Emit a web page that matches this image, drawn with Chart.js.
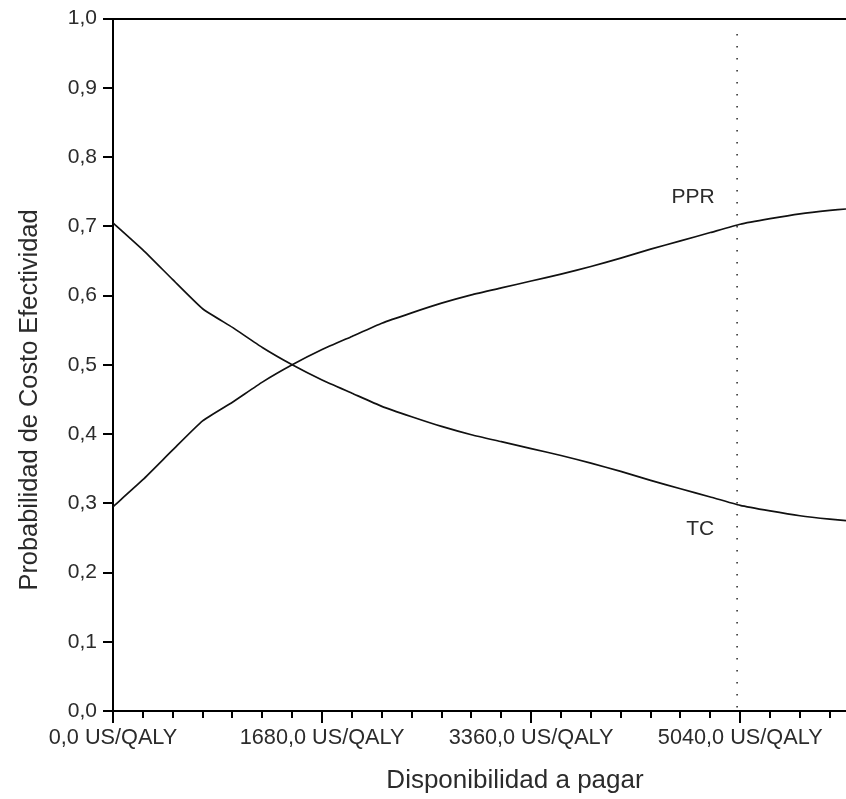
<!DOCTYPE html>
<html>
<head>
<meta charset="utf-8">
<script src="https://cdn.jsdelivr.net/npm/chart.js@4.4.1/dist/chart.umd.min.js"></script>
<style>
  html, body { margin: 0; padding: 0; background: #fff; overflow: hidden; }
  #wrap { width: 846px; height: 799px; }
</style>
</head>
<body>
<div id="wrap"><canvas id="ceac" width="846" height="799"></canvas></div>
<script>
// Willingness to pay (US/QALY) at which each strategy was evaluated
const wtp = [0, 240, 480, 720, 960, 1200, 1440, 1680, 1920, 2160, 2400, 2640, 2880,
             3120, 3360, 3600, 3840, 4080, 4320, 4560, 4800, 5040, 5280, 5520, 5760, 5890];

// Probability of being cost-effective, strategy TC
const tcProb = [0.705, 0.666, 0.623, 0.581, 0.554, 0.525, 0.500, 0.478, 0.459, 0.440, 0.425, 0.411, 0.399,
                0.389, 0.379, 0.369, 0.358, 0.346, 0.333, 0.321, 0.309, 0.297, 0.289, 0.282, 0.277, 0.275];

// Probability of being cost-effective, strategy PPR
const pprProb = [0.295, 0.334, 0.377, 0.419, 0.446, 0.475, 0.500, 0.522, 0.541, 0.560, 0.575, 0.589, 0.601,
                 0.611, 0.621, 0.631, 0.642, 0.654, 0.667, 0.679, 0.691, 0.703, 0.711, 0.718, 0.723, 0.725];

// Reference threshold (dotted vertical line)
const threshold = 5015;

// Axis ticks
const xMajorTicks = [0, 1680, 3360, 5040];
const xMinorStep = 240;
const yTicks = [0, 0.1, 0.2, 0.3, 0.4, 0.5, 0.6, 0.7, 0.8, 0.9, 1.0];

// Curve labels, anchored in data coordinates
const curveLabels = [
  { text: 'PPR', x: 4662, y: 0.742 },
  { text: 'TC',  x: 4718, y: 0.263 }
];

const xTitle = 'Disponibilidad a pagar';
const yTitle = 'Probabilidad de Costo Efectividad';

const INK = '#2b2b2b';
const FONT = '"Liberation Sans", Arial, sans-serif';

const toPoints = (xs, ys) => xs.map((v, i) => ({ x: v, y: ys[i] }));
const fmt = v => v.toFixed(1).replace('.', ',');

const decor = {
  id: 'decor',
  afterDraw(chart) {
    const { ctx, chartArea, scales: { x, y } } = chart;
    ctx.save();

    // frame line along the top of the plot
    ctx.strokeStyle = '#000';
    ctx.lineWidth = 2;
    ctx.beginPath();
    const topY = Math.round(y.getPixelForValue(1));
    ctx.moveTo(chartArea.left - 10, topY);
    ctx.lineTo(chart.width, topY);

    // minor ticks on the x axis
    const baseY = Math.round(chartArea.bottom);
    for (let v = xMinorStep; v < x.max; v += xMinorStep) {
      if (xMajorTicks.includes(v)) continue;
      const px = Math.round(x.getPixelForValue(v));
      ctx.moveTo(px, baseY);
      ctx.lineTo(px, baseY + 7);
    }
    ctx.stroke();

    // curve labels
    ctx.fillStyle = INK;
    ctx.font = '21px ' + FONT;
    ctx.textAlign = 'center';
    ctx.textBaseline = 'middle';
    curveLabels.forEach(l => {
      ctx.fillText(l.text, x.getPixelForValue(l.x), y.getPixelForValue(l.y));
    });

    // axis titles
    ctx.font = '26px ' + FONT;
    ctx.textBaseline = 'alphabetic';
    ctx.fillText(xTitle, 515, 788);

    ctx.font = '25.4px ' + FONT;
    ctx.translate(37, 400);
    ctx.rotate(-Math.PI / 2);
    ctx.fillText(yTitle, 0, 0);
    ctx.restore();
  }
};

new Chart(document.getElementById('ceac'), {
  type: 'line',
  data: {
    datasets: [
      {
        label: 'TC',
        data: toPoints(wtp, tcProb),
        borderColor: '#111',
        borderWidth: 1.7,
        pointRadius: 0,
        tension: 0.15,
        fill: false
      },
      {
        label: 'PPR',
        data: toPoints(wtp, pprProb),
        borderColor: '#111',
        borderWidth: 1.7,
        pointRadius: 0,
        tension: 0.15,
        fill: false
      },
      {
        label: 'umbral',
        data: [{ x: threshold, y: 0.005 }, { x: threshold, y: 0.99 }],
        borderColor: '#333',
        borderWidth: 1.6,
        borderDash: [1.6, 10.4],
        pointRadius: 0,
        fill: false
      }
    ]
  },
  options: {
    responsive: false,
    devicePixelRatio: 1,
    animation: false,
    layout: { padding: { top: 18, right: 0, bottom: 0, left: 0 } },
    plugins: {
      legend: { display: false },
      tooltip: { enabled: false },
      title: { display: false }
    },
    scales: {
      x: {
        type: 'linear',
        min: 0,
        max: 5890,
        afterBuildTicks: s => { s.ticks = xMajorTicks.map(v => ({ value: v })); },
        afterFit: s => { s.height = 88; },
        ticks: {
          maxRotation: 0,
          autoSkip: false,
          padding: 2,
          color: INK,
          font: { family: FONT, size: 21.7 },
          callback: v => fmt(v) + ' US/QALY'
        },
        grid: {
          drawOnChartArea: false,
          drawTicks: true,
          tickLength: 12,
          color: '#000',
          lineWidth: 2
        },
        border: { display: true, color: '#000', width: 2 }
      },
      y: {
        type: 'linear',
        min: 0,
        max: 1,
        afterBuildTicks: s => { s.ticks = yTicks.map(v => ({ value: v })); },
        afterFit: s => { s.width = 113; },
        ticks: {
          padding: 6,
          color: INK,
          font: { family: FONT, size: 21 },
          callback: v => fmt(v)
        },
        grid: {
          drawOnChartArea: false,
          drawTicks: true,
          tickLength: 10,
          color: '#000',
          lineWidth: 2
        },
        border: { display: true, color: '#000', width: 2 }
      }
    }
  },
  plugins: [decor]
});
</script>
</body>
</html>
